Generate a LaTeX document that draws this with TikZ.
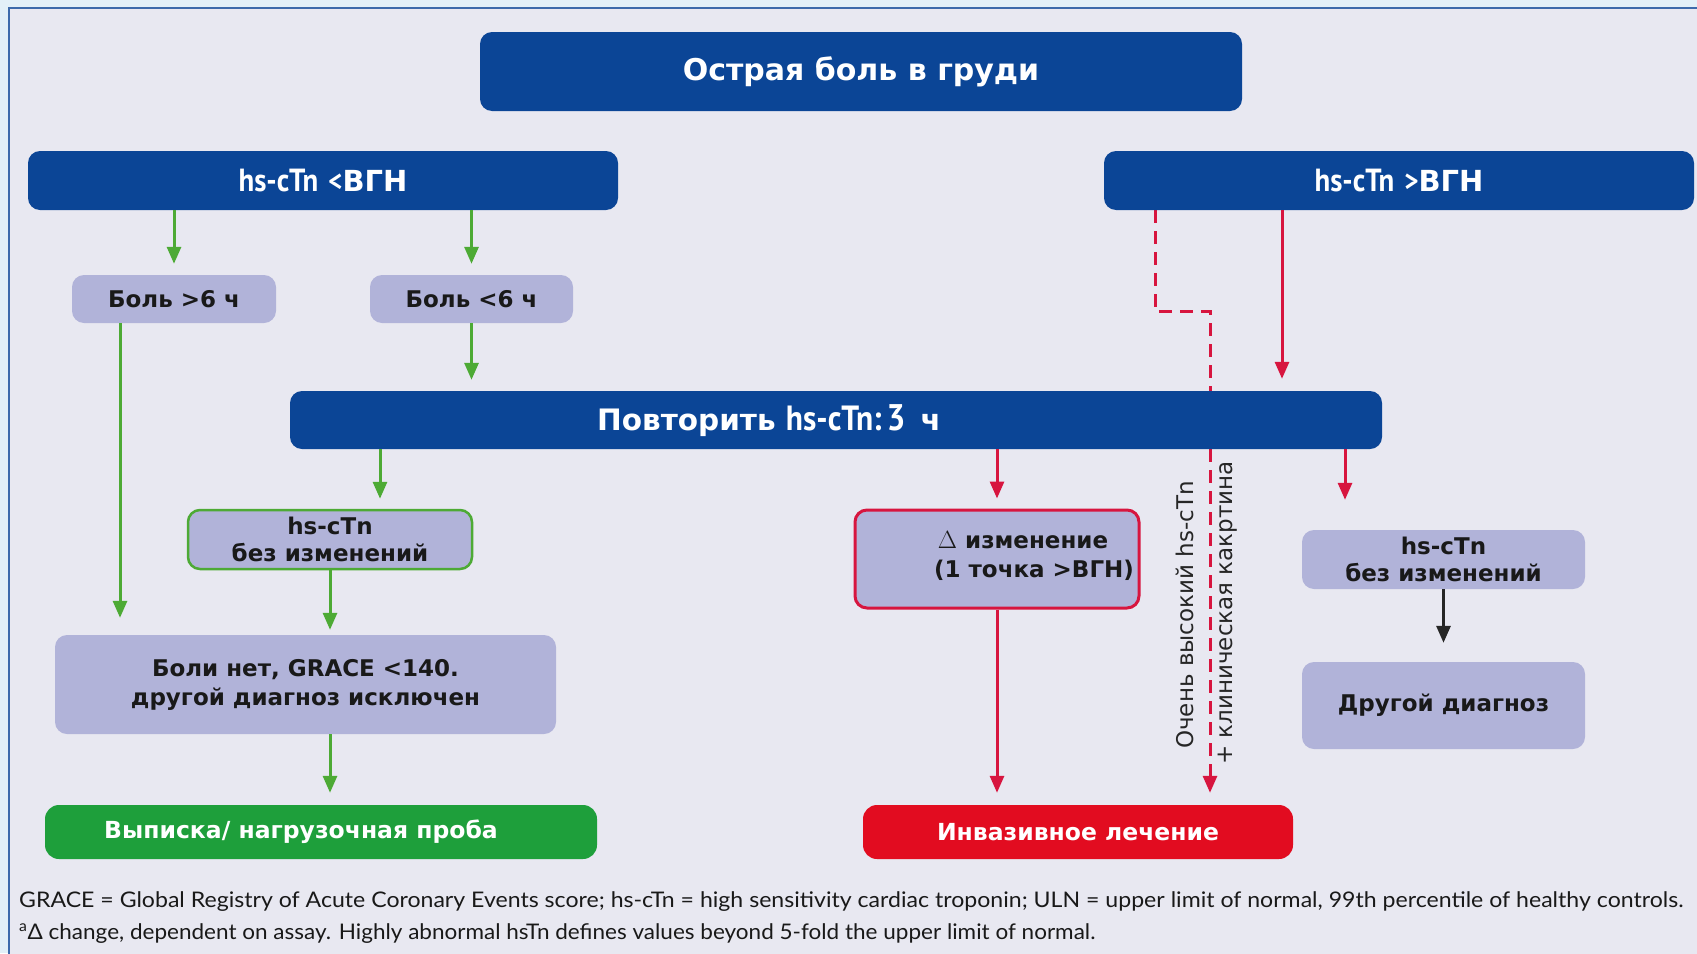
\documentclass[tikz,border=0pt]{standalone}
\usepackage{fontspec}
\usepackage{graphicx}
\setmainfont{DejaVu Sans}
\newfontfamily\cond[FakeStretch=0.90]{PT Sans}
\newfontfamily\foot[FakeStretch=0.85]{Lato}
\usetikzlibrary{arrows.meta}
\pgfdeclarelayer{back}
\pgfdeclarelayer{bg}
\pgfsetlayers{back,bg,main}
\definecolor{outerbg}{HTML}{E2F0F8}
\definecolor{innerbg}{HTML}{E8E8F1}
\definecolor{navy}{HTML}{0B4596}
\definecolor{lav}{HTML}{B1B3D9}
\definecolor{grn}{HTML}{4DAA35}
\definecolor{grnbox}{HTML}{1E9F3B}
\definecolor{myred}{HTML}{D7153F}
\definecolor{redbox}{HTML}{E20C20}
\tikzset{
  navybox/.style={fill=navy, rounded corners=12pt, text=white, inner sep=0pt,
    font=\bfseries\fontsize{30}{34}\selectfont},
  lavbox/.style={fill=lav, rounded corners=12pt, text=black!90, inner sep=0pt, align=center,
    font=\bfseries\fontsize{23}{27}\selectfont},
  endbox/.style={rounded corners=14pt, text=white, inner sep=0pt,
    font=\bfseries\fontsize{23.5}{27}\selectfont},
  tip/.style={-{Triangle[length=17pt,width=14pt]}},
  garr/.style={draw=grn, line width=3pt, tip},
  rarr/.style={draw=myred, line width=3pt, tip},
  barr/.style={draw=black!85, line width=3pt, tip},
  vtext/.style={rotate=90, inner sep=0pt, font=\fontsize{23}{26}\selectfont, text=black!85},
}
\newcommand{\hsc}{{\cond\bfseries\fontsize{32}{34}\selectfont hs-cTn}}
\begin{document}
\begin{tikzpicture}[x=1pt,y=-1pt]
\useasboundingbox (0,0) rectangle (1697,953);
\begin{pgfonlayer}{back}
\fill[outerbg] (0,0) rectangle (1697,953);
\filldraw[fill=innerbg, draw=navy!80, line width=1.5pt] (9,8) rectangle (1712,970);
\end{pgfonlayer}

% nodes
\node[navybox, minimum width=762pt, minimum height=79pt] (title) at (861,71.5) {\raisebox{-3pt}{Острая боль в груди}};
\node[navybox, minimum width=590pt, minimum height=59pt, font=\bfseries\fontsize{29}{32}\selectfont] (lo) at (323,180.5)
  {\hsc\ {\cond\fontsize{30}{32}\selectfont <}ВГН};
\node[navybox, minimum width=590pt, minimum height=59pt, font=\bfseries\fontsize{29}{32}\selectfont] (hi) at (1399,180.5)
  {\hsc\ {\cond\fontsize{30}{32}\selectfont >}ВГН};
\node[lavbox, minimum width=204pt, minimum height=48pt] (p6) at (174,299) {Боль >6 ч};
\node[lavbox, minimum width=203pt, minimum height=48pt] (m6) at (471.5,299) {Боль <6 ч};
\node[navybox, minimum width=1092pt, minimum height=58pt] (rep) at (836,420) {};
\node[text=white, inner sep=0pt, font=\bfseries\fontsize{29.5}{32}\selectfont] (reptxt) at (769,421)
  {Повторить {\cond\bfseries\fontsize{35}{34}\selectfont hs-cTn:}\,{\cond\bfseries\fontsize{37}{34}\selectfont 3}\, ч};
\node[lavbox, draw=grn, line width=2.5pt, minimum width=284pt, minimum height=59pt] (nc1) at (330,539.5)
  {hs-cTn\\без изменений};
\node[lavbox, draw=myred, line width=3pt, minimum width=284pt, minimum height=98pt] (dch) at (997,559) {};
\node[inner sep=0pt, align=left, text=black!90, font=\bfseries\fontsize{23}{29}\selectfont] (dchtxt) at (1034,556)
  {\,$\Delta$ изменение\\(1 точка >ВГН)};
\node[lavbox, minimum width=283pt, minimum height=59pt] (nc2) at (1443.5,559.5) {hs-cTn\\без изменений};
\node[lavbox, minimum width=283pt, minimum height=87pt] (oth) at (1443.5,705.5) {Другой диагноз};
\node[lavbox, minimum width=501pt, minimum height=99pt, font=\bfseries\fontsize{23}{29}\selectfont] (nopain) at (305.5,684.5)
  {Боли нет, GRACE <140.\\другой диагноз исключен};
\node[endbox, fill=grnbox, minimum width=552pt, minimum height=54pt] (disch) at (321,832) {Выписка/ нагрузочная проба\hspace*{40pt}};
\node[endbox, fill=redbox, minimum width=430pt, minimum height=54pt] (inv) at (1078,832) {Инвазивное лечение};

\node[vtext] (vt1) at (1185,615) {Очень высокий hs-cTn};
\node[vtext] (vt2) at (1228,613) {+ клиническая какртина};

% coordinates
\coordinate (cA) at (120,0);
\coordinate (cB) at (380,0);
\coordinate (cC) at (1345,0);
\coordinate (cD) at (1282,0);
\coordinate (d1) at (1155,311);
\coordinate (d2) at (1210,311);

% connectors
\draw[garr, shorten >=11pt] (lo.south -| p6.north) -- (p6.north);
\draw[garr, shorten >=11pt] (lo.south -| m6.north) -- (m6.north);
\draw[garr, shorten >=11pt] (m6.south) -- (m6.south |- rep.north);
\draw[garr, shorten >=17pt] (p6.south -| cA) -- (nopain.north -| cA);
\draw[garr, shorten >=10pt] (rep.south -| cB) -- (nc1.north -| cB);
\draw[garr, shorten >=5pt] (nc1.south) -- (nc1.south |- nopain.north);
\draw[garr, shorten >=12pt] (nopain.south -| nc1.south) -- (disch.north -| nc1.south);
\draw[rarr, shorten >=10pt] (rep.south -| dch.north) -- (dch.north);
\draw[rarr, shorten >=12pt] (dch.south) -- (dch.south |- inv.north);
\draw[rarr, shorten >=30pt] (rep.south -| cC) -- (nc2.north -| cC);
\draw[barr, shorten >=19pt] (nc2.south) -- (oth.north);
\draw[rarr, shorten >=12pt] (hi.south -| cD) -- (rep.north -| cD);
\begin{pgfonlayer}{bg}
\draw[rarr, dash pattern=on 13pt off 8pt, shorten >=12pt] (hi.south -| d1) -- (d1) -- (d2) -- (inv.north -| d2);
\end{pgfonlayer}

% footnotes
\node[anchor=base west, inner sep=0pt, font=\foot\fontsize{21.5}{24}\selectfont, text=black!90] (fn1) at (19,907)
  {\resizebox{1664pt}{\height}{GRACE = Global Registry of Acute Coronary Events score; hs-cTn = high sensitivity cardiac troponin; ULN = upper limit of normal, 99th percentile of healthy controls.}};
\node[anchor=base west, inner sep=0pt, font=\foot\fontsize{21.5}{24}\selectfont, text=black!90] (fn2) at (19,939)
  {\resizebox{1076pt}{\height}{\textsuperscript{a}Δ change, dependent on assay. Highly abnormal hsTn defines values beyond 5-fold the upper limit of normal.}};
\end{tikzpicture}
\end{document}
